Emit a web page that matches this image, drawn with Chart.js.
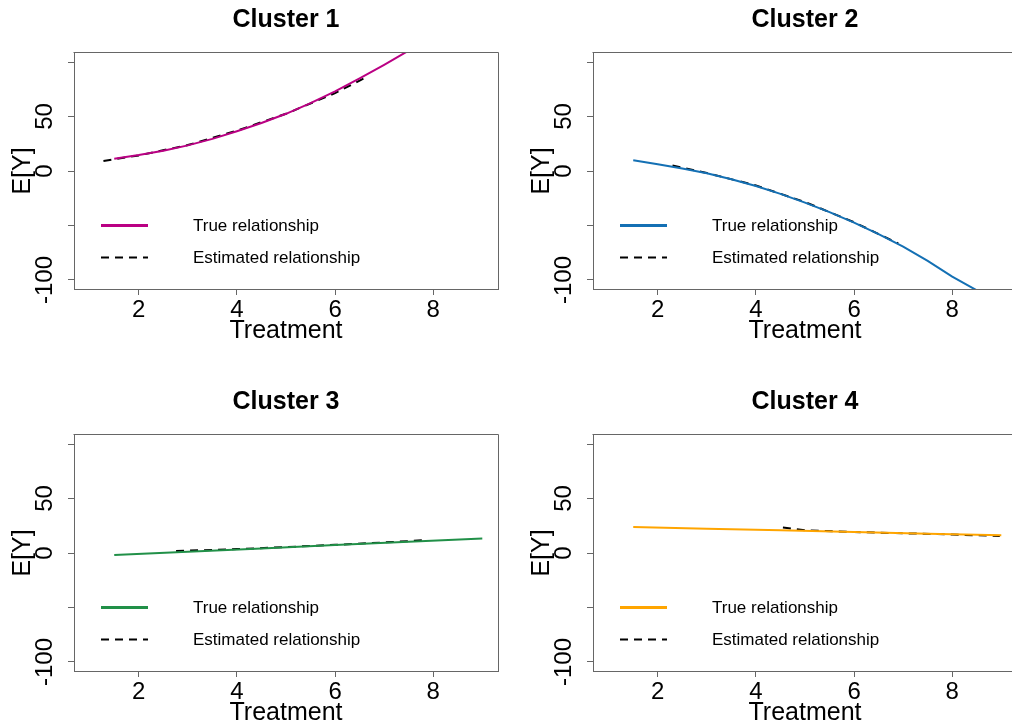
<!DOCTYPE html>
<html><head><meta charset="utf-8">
<script src="https://cdn.jsdelivr.net/npm/chart.js@4/dist/chart.umd.min.js"></script>
<style>
html,body{margin:0;padding:0;background:#fff;overflow:hidden;}
#wrap{position:relative;width:1012px;height:728px;overflow:hidden;background:#fff;}
canvas{position:absolute;}
</style></head><body>
<div id="wrap">
<canvas id="c1" width="506" height="364" style="left:0px;top:0px"></canvas>
<canvas id="c2" width="506" height="364" style="left:519px;top:0px"></canvas>
<canvas id="c3" width="506" height="364" style="left:0px;top:382px"></canvas>
<canvas id="c4" width="506" height="364" style="left:519px;top:382px"></canvas>
</div>
<script>
// ---- data ----
const xTicks = [2, 4, 6, 8];
const yTicks = [-100, -50, 0, 50, 100];
const yTickLabels = ['-100', '', '0', '50', ''];
const titles = ['Cluster 1', 'Cluster 2', 'Cluster 3', 'Cluster 4'];
const trueColors = ['#BA0083', '#1470B4', '#219048', '#FFA500'];
const seriesLabels = ['True relationship', 'Estimated relationship'];

const c1TrueX = [1.5, 2, 2.5, 3, 3.5, 4, 4.5, 5, 5.5, 6, 6.5, 7, 7.5, 8];
const c1TrueY = [11.3, 14.6, 18.5, 23.5, 29.5, 36.5, 44, 52.5, 62.3, 73, 85, 97.5, 110.5, 124];
const c1EstX = [1.28, 2, 3, 4, 5, 6, 6.59];
const c1EstY = [9.2, 14.3, 23.8, 37, 52.5, 71.5, 85];

const c2TrueX = [1.5, 2, 2.5, 3, 3.5, 4, 4.5, 5, 5.5, 6, 6.5, 7, 7.5, 8, 8.5];
const c2TrueY = [9.8, 6.1, 2.2, -2.1, -7.6, -13.8, -21, -29, -37.8, -47.4, -58, -69.4, -82.5, -97, -109.5];
const c2EstX = [2.3, 3, 4, 5, 6, 6.9];
const c2EstY = [5, -1.8, -13.3, -28.5, -47, -66.5];

const c3TrueX = [1.5, 3, 4.5, 6, 7.5, 9];
const c3TrueY = [-1.9, 1.2, 4.2, 7.3, 10.3, 13.4];
const c3EstX = [2.76, 4, 5, 6, 7, 7.89];
const c3EstY = [1.8, 3.6, 5.4, 7.5, 9.7, 11.9];

const c4TrueX = [1.5, 3, 4.5, 6, 7.5, 9];
const c4TrueY = [23.8, 22.3, 20.8, 19.2, 17.7, 16.2];
const c4EstX = [4.55, 5, 6, 7, 8, 8.97];
const c4EstY = [23.3, 20.8, 19.3, 18.1, 17.0, 15.6];

const panels = [
  [c1TrueX, c1TrueY, c1EstX, c1EstY],
  [c2TrueX, c2TrueY, c2EstX, c2EstY],
  [c3TrueX, c3TrueY, c3EstX, c3EstY],
  [c4TrueX, c4TrueY, c4EstX, c4EstY]
];

// ---- rendering ----
const FONT = '"Liberation Sans", Arial, sans-serif';
Chart.defaults.font.family = FONT;
const AXIS = '#666666';

const pts = (xs, ys) => xs.map((x, i) => ({x: x, y: ys[i]}));

const framePlugin = {
  id: 'rframe',
  afterDraw(chart) {
    const {ctx, chartArea: a} = chart;
    ctx.save();
    ctx.strokeStyle = AXIS; ctx.lineWidth = 1;
    ctx.beginPath();
    ctx.moveTo(Math.round(a.left) - 0.5, Math.round(a.top) - 0.5);
    ctx.lineTo(Math.round(a.right) + 0.5, Math.round(a.top) - 0.5);
    ctx.lineTo(Math.round(a.right) + 0.5, Math.round(a.bottom) + 0.5);
    ctx.stroke();
    ctx.restore();
  }
};

const legendPlugin = {
  id: 'rlegend',
  afterDraw(chart) {
    const {ctx, chartArea: a} = chart;
    const ds = chart.data.datasets;
    const x0 = a.left + 27, x1 = a.left + 74, tx = a.left + 119;
    const y1 = a.top + 172.5, y2 = a.top + 204.5;
    ctx.save();
    ctx.lineCap = 'butt';
    ctx.strokeStyle = ds[0].borderColor; ctx.lineWidth = 3; ctx.setLineDash([]);
    ctx.beginPath(); ctx.moveTo(x0, y1); ctx.lineTo(x1, y1); ctx.stroke();
    ctx.strokeStyle = ds[1].borderColor; ctx.lineWidth = 2; ctx.setLineDash([8, 6]);
    ctx.beginPath(); ctx.moveTo(x0, y2); ctx.lineTo(x1, y2); ctx.stroke();
    ctx.setLineDash([]);
    ctx.fillStyle = '#000'; ctx.font = '17px ' + FONT;
    ctx.textAlign = 'left'; ctx.textBaseline = 'middle';
    ctx.fillText(ds[0].label, tx, y1 + 1);
    ctx.fillText(ds[1].label, tx, y2 + 1);
    ctx.restore();
  }
};

function makeChart(id, k) {
  const d = panels[k];
  return new Chart(document.getElementById(id), {
    type: 'line',
    data: {
      datasets: [
        { label: seriesLabels[0], data: pts(d[0], d[1]), borderColor: trueColors[k], borderWidth: 2,
          pointRadius: 0, tension: 0, fill: false },
        { label: seriesLabels[1], data: pts(d[2], d[3]), borderColor: '#000000', borderWidth: 2,
          borderDash: [8, 6], pointRadius: 0, tension: 0, fill: false }
      ]
    },
    options: {
      responsive: false, animation: false, devicePixelRatio: 1,
      layout: { padding: { left: 0, right: 8, top: 0, bottom: 0 } },
      plugins: {
        legend: { display: false },
        tooltip: { enabled: false },
        title: { display: true, text: titles[k], fullSize: false, color: '#000',
          font: { family: FONT, size: 25, weight: 'bold', lineHeight: 1.2 },
          padding: { top: 5, bottom: 18 } }
      },
      scales: {
        x: {
          type: 'linear', min: 0.68, max: 9.32,
          afterBuildTicks: s => { s.ticks = xTicks.map(v => ({value: v})); },
          afterFit: s => { s.height = 75; },
          grid: { drawOnChartArea: false, drawTicks: true, tickLength: 6, color: AXIS, lineWidth: 1 },
          border: { display: true, color: AXIS, width: 1 },
          ticks: { autoSkip: false, minRotation: 0, maxRotation: 0, padding: 1, color: '#000',
            font: { family: FONT, size: 24, lineHeight: 1.2 },
            callback: (v) => String(v) },
          title: { display: true, text: 'Treatment', color: '#000',
            font: { family: FONT, size: 25, lineHeight: 1.2 }, padding: { top: 0, bottom: 18 } }
        },
        y: {
          type: 'linear', min: -108.3, max: 108.3,
          afterBuildTicks: s => { s.ticks = yTicks.map(v => ({value: v})); },
          afterFit: s => { s.width = 74; },
          grid: { drawOnChartArea: false, drawTicks: true, tickLength: 6, color: AXIS, lineWidth: 1 },
          border: { display: true, color: AXIS, width: 1 },
          ticks: { autoSkip: false, minRotation: 90, maxRotation: 90, crossAlign: 'center', padding: -1,
            color: '#000', font: { family: FONT, size: 24, lineHeight: 1.2 },
            callback: (v, i) => yTickLabels[yTicks.indexOf(v)] },
          title: { display: true, text: 'E[Y]', color: '#000',
            font: { family: FONT, size: 25, lineHeight: 1.2 }, padding: { top: 8, bottom: 0 } }
        }
      }
    },
    plugins: [framePlugin, legendPlugin]
  });
}
makeChart('c1', 0);
makeChart('c2', 1);
makeChart('c3', 2);
makeChart('c4', 3);
</script>
</body></html>
